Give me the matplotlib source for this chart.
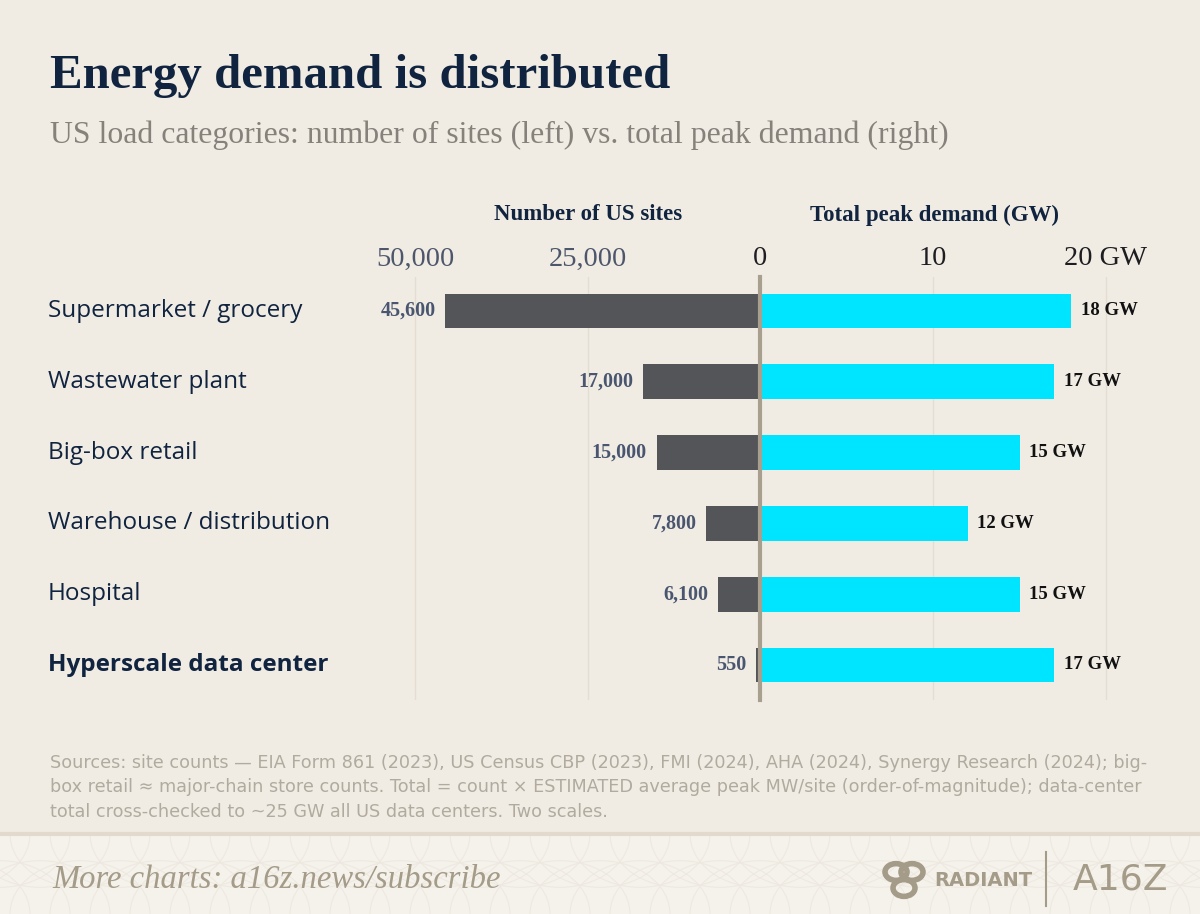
import matplotlib
matplotlib.use("Agg")
import matplotlib.pyplot as plt
from matplotlib.patches import Rectangle, Circle
from matplotlib.ticker import FuncFormatter

# data
categories = ["Supermarket / grocery", "Wastewater plant", "Big-box retail",
              "Warehouse / distribution", "Hospital", "Hyperscale data center"]
sites = [45600, 17000, 15000, 7800, 6100, 550]
peak_gw = [18, 17, 15, 12, 15, 17]
site_ticks = [50000, 25000]
gw_ticks = [0, 10, 20]

BG = "#f0ece4"
NAVY = "#10233f"
DARK_BAR = "#545559"
CYAN = "#00e5ff"
SLATE = "#4a5670"
TAN = "#a49b88"

W, H = 1200, 914
fig = plt.figure(figsize=(W / 100, H / 100), dpi=100, facecolor=BG)


def fx(px):
    return px / W


def fy(py):
    return 1 - py / H


# plot geometry in pixels
zero_x = 760
px_per_site = 345 / 50000
px_per_gw = 346 / 20
top, bottom = 277, 700
row0, row_step = 311, 70.8

left_lim = 53000
right_lim = 22.6
left_w = left_lim * px_per_site
right_w = right_lim * px_per_gw

ax_l = fig.add_axes([fx(zero_x - left_w), fy(bottom), left_w / W, (bottom - top) / H])
ax_r = fig.add_axes([fx(zero_x), fy(bottom), right_w / W, (bottom - top) / H])

y_top = -(row0 - top) / row_step
y_bot = (bottom - row0) / row_step
ypos = list(range(len(categories)))

for ax in (ax_l, ax_r):
    ax.set_facecolor("none")
    ax.set_ylim(y_bot, y_top)
    for s in ax.spines.values():
        s.set_visible(False)
    ax.set_yticks([])
    ax.xaxis.tick_top()
    ax.tick_params(axis="x", length=0, pad=4)
    ax.grid(axis="x", color="#e3ddd2", lw=1)
    ax.set_axisbelow(True)

ax_l.set_xlim(left_lim, 0)
ax_r.set_xlim(0, right_lim)

ax_l.barh(ypos, sites, height=0.49, color=DARK_BAR, zorder=2)
ax_r.barh(ypos, peak_gw, height=0.49, color=CYAN, zorder=2)

ax_l.set_xticks(site_ticks)
ax_l.xaxis.set_major_formatter(FuncFormatter(lambda v, p: f"{int(v):,}"))
ax_r.set_xticks(gw_ticks)
ax_r.xaxis.set_major_formatter(FuncFormatter(lambda v, p: f"{int(v)} GW" if v == 20 else f"{int(v)}"))
for lab in ax_l.get_xticklabels():
    lab.set_fontfamily("Liberation Serif")
    lab.set_fontsize(20.5)
    lab.set_color("#4d566a")
for lab in ax_r.get_xticklabels():
    lab.set_fontfamily("Liberation Serif")
    lab.set_fontsize(20.5)
    lab.set_color("#1e1e22")

ax_r.axvline(0, color="#a99f8f", lw=3, zorder=3, clip_on=False)

for y, v in zip(ypos, sites):
    ax_l.annotate(f"{v:,}", (v, y), xytext=(-7, 0), textcoords="offset points",
                  ha="right", va="center", fontsize=14.5, fontweight="bold",
                  family="Liberation Serif", color=SLATE)
for y, v in zip(ypos, peak_gw):
    ax_r.annotate(f"{v} GW", (v, y), xytext=(7, 0), textcoords="offset points",
                  ha="left", va="center", fontsize=13.5, fontweight="bold",
                  family="Liberation Serif", color="#111111")

# category labels
for i, name in enumerate(categories):
    last = i == len(categories) - 1
    fig.text(fx(48), fy(row0 + i * row_step), name, ha="left", va="center",
             fontsize=17.5, family="Open Sans", color=NAVY,
             fontweight="bold" if last else "normal")

# column headers
fig.text(fx(588), fy(215), "Number of US sites", ha="center", va="center",
         fontsize=16.5, fontweight="bold", family="Liberation Serif", color=NAVY)
fig.text(fx(934), fy(215), "Total peak demand (GW)", ha="center", va="center",
         fontsize=16.5, fontweight="bold", family="Liberation Serif", color=NAVY)

# title block
fig.text(fx(50), fy(76), "Energy demand is distributed", ha="left", va="center",
         fontsize=35.2, fontweight="bold", family="Liberation Serif", color=NAVY)
fig.text(fx(50), fy(135), "US load categories: number of sites (left) vs. total peak demand (right)",
         ha="left", va="center", fontsize=22.9, family="Liberation Serif", color="#86817a")

# sources
sources = ("Sources: site counts \u2014 EIA Form 861 (2023), US Census CBP (2023), FMI (2024), AHA (2024), Synergy Research (2024); big-\n"
           "box retail \u2248 major-chain store counts. Total = count \u00d7 ESTIMATED average peak MW/site (order-of-magnitude); data-center\n"
           "total cross-checked to ~25 GW all US data centers. Two scales.")
fig.text(fx(50), fy(754), sources, ha="left", va="top", fontsize=12.7,
         family=["Liberation Sans Narrow", "DejaVu Sans"], color="#b1ab9f", linespacing=1.45)

# footer band with faint arc pattern
band = Rectangle((0, 0), 1, fy(834), transform=fig.transFigure, color="#f5f2ec", zorder=0)
fig.patches.append(band)
for k in range(-2, 32):
    for cy in (914, 834):
        arc = Circle((fx(k * 40), fy(cy)), 70 / W, transform=fig.transFigure,
                     fill=False, ec="#eee9e0", lw=0.8, zorder=0.5)
        arc.set_clip_path(band)
        fig.patches.append(arc)
fig.lines.append(plt.Line2D([0, 1], [fy(834), fy(834)], transform=fig.transFigure,
                            color="#e2dbcd", lw=3))
fig.text(fx(52), fy(880), "More charts: a16z.news/subscribe", ha="left", va="center",
         fontsize=23.5, style="italic", family="Liberation Serif", color=TAN)

# logos
for cx, cy in [(896, 872), (912, 872), (904, 888)]:
    fig.patches.append(Circle((fx(cx), fy(cy)), 11 / W, transform=fig.transFigure,
                              fill=False, ec=TAN, lw=4, zorder=2))
fig.text(fx(934), fy(880), "RADIANT", ha="left", va="center", fontsize=14,
         fontweight="bold", family="Liberation Sans Narrow", color=TAN)
fig.lines.append(plt.Line2D([fx(1046), fx(1046)], [fy(852), fy(906)],
                            transform=fig.transFigure, color=TAN, lw=1.5))
fig.text(fx(1073), fy(880), "A16Z", ha="left", va="center", fontsize=26,
         family="Liberation Sans Narrow", color=TAN)

fig.savefig("out.png", dpi=100, facecolor=BG)
